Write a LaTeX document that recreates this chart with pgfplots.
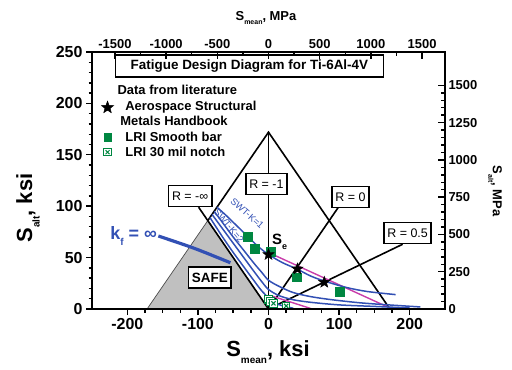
\documentclass[border=0pt]{standalone}
\usepackage{fontspec}
\setmainfont{Liberation Sans}
\usepackage{pgfplots}
\pgfplotsset{compat=1.18}
\definecolor{cblue}{RGB}{50,80,180}
\definecolor{cgreen}{RGB}{0,135,65}
\definecolor{cmag}{RGB}{200,60,170}
\definecolor{cgray}{RGB}{192,192,192}
\pgfdeclareplotmark{fstar}{%
  \pgfpathmoveto{\pgfpointpolar{90}{\pgfplotmarksize}}%
  \pgfpathlineto{\pgfpointpolar{126}{0.42*\pgfplotmarksize}}%
  \pgfpathlineto{\pgfpointpolar{162}{\pgfplotmarksize}}%
  \pgfpathlineto{\pgfpointpolar{198}{0.42*\pgfplotmarksize}}%
  \pgfpathlineto{\pgfpointpolar{234}{\pgfplotmarksize}}%
  \pgfpathlineto{\pgfpointpolar{270}{0.42*\pgfplotmarksize}}%
  \pgfpathlineto{\pgfpointpolar{306}{\pgfplotmarksize}}%
  \pgfpathlineto{\pgfpointpolar{342}{0.42*\pgfplotmarksize}}%
  \pgfpathlineto{\pgfpointpolar{18}{\pgfplotmarksize}}%
  \pgfpathlineto{\pgfpointpolar{54}{0.42*\pgfplotmarksize}}%
  \pgfpathclose
  \pgfusepathqfillstroke}
\pgfdeclareplotmark{sqx}{%
  \pgfpathrectangle{\pgfpoint{-\pgfplotmarksize}{-\pgfplotmarksize}}{\pgfpoint{2*\pgfplotmarksize}{2*\pgfplotmarksize}}%
  \pgfusepathqfillstroke
  \pgfpathmoveto{\pgfpoint{-0.55*\pgfplotmarksize}{-0.55*\pgfplotmarksize}}%
  \pgfpathlineto{\pgfpoint{0.55*\pgfplotmarksize}{0.55*\pgfplotmarksize}}%
  \pgfpathmoveto{\pgfpoint{-0.55*\pgfplotmarksize}{0.55*\pgfplotmarksize}}%
  \pgfpathlineto{\pgfpoint{0.55*\pgfplotmarksize}{-0.55*\pgfplotmarksize}}%
  \pgfusepathqstroke}
\newcommand{\fs}[1]{\fontsize{#1}{#1}\selectfont}
\begin{document}
\begin{tikzpicture}
\useasboundingbox (0,0) rectangle (512bp,370bp);
\begin{axis}[
  at={(92bp,61bp)}, anchor=south west, scale only axis,
  width=353bp, height=257bp,
  xmin=-250, xmax=250, ymin=0, ymax=250,
  xtick={-200,-100,0,100,200}, ytick={0,50,...,250},
  minor x tick num=3, minor y tick num=4,
  xtick pos=left, ytick pos=left, tick align=outside,
  major tick length=6bp, minor tick length=3.5bp,
  axis line style={line width=2bp},
  every tick/.style={black, line width=1.4bp},
  ticklabel style={font=\fs{16}\bfseries},
  /pgf/number format/assume math mode=true,
  /pgf/number format/1000 sep={},
  clip=false,
]
% safe region
\addplot[fill=cgray, draw=gray!60!black, line width=0.7bp] coordinates {(-172,0)(-86,86)(0,0)} \closedcycle;
% black lines
\addplot[black, line width=1.6bp] coordinates {(-86,86)(0,172)(172,0)};
\addplot[black, line width=1.6bp] coordinates {(0,0)(0,172)};
\addplot[black, line width=1.6bp] coordinates {(-99,99)(0,0)};
\addplot[black, line width=1.6bp] coordinates {(0,0)(100,100)};
\addplot[black, line width=1.6bp] coordinates {(0,0)(190,63)};
% magenta lines
\addplot[cmag, line width=1.4bp] coordinates {(3,54)(175,0)};
\addplot[cmag, line width=1.4bp] coordinates {(3,13)(62,0)};
% blue curves
\addplot[cblue, line width=1.5bp, smooth] coordinates {(-73,99)(-60,91)(-45,81)(-30,71)(-15,61)(0,53)(20,45)(40,39)(60,32)(80,27)(110,21)(140,17)(180,14)};
\addplot[cblue, line width=1.5bp, smooth] coordinates {(-77,95)(-65,84)(-50,70)(-35,57)(-20,44)(-10,36)(0,28)(15,22)(35,16)(60,12)(90,9)(130,6)(170,4)(215,2)};
\addplot[cblue, line width=1.5bp, smooth] coordinates {(-80,92)(-65,78)(-50,64)(-35,50)(-20,36)(-10,27)(0,19)(15,13)(35,9)(60,6.5)(100,4)(150,2.5)(200,1)};
\addplot[cblue, line width=1.5bp, smooth] coordinates {(-83,89)(-65,70)(-50,55)(-35,41)(-20,27)(-10,18)(0,11)(10,6)(20,3)(35,0.8)};
% k_f = infinity pointer
\addplot[cblue, line width=3.2bp, smooth] coordinates {(-156,71)(-105,59)(-54,45)};
% data
\addplot[only marks, mark=square*, mark size=4.4bp, cgreen] coordinates {(-30,70)(-20,59)(3,56)(40,31)(101,17)};
\addplot[only marks, mark=sqx, mark size=3.8bp, mark options={draw=cgreen, fill=white, line width=1.1bp}] coordinates {(0,9.5)(3,7.5)(7,5.5)(25,3)};
\addplot[only marks, mark=fstar, mark size=6bp, black] coordinates {(0,53)(41,39)(79,26)};
% legend markers
\addplot[only marks, mark=fstar, mark size=6.5bp, black] coordinates {(-228,196)};
\addplot[only marks, mark=square*, mark size=3.8bp, cgreen] coordinates {(-228,167)};
\addplot[only marks, mark=sqx, mark size=3.6bp, mark options={draw=cgreen, fill=white, line width=1bp}] coordinates {(-228,152.5)};
% text
\node[draw, line width=1.8bp, fill=white, font=\fs{13.5}\bfseries, minimum width=268bp, minimum height=22bp, inner sep=2bp] at (axis cs:-27,236) {Fatigue Design Diagram for Ti-6Al-4V};
\node[anchor=west, font=\fs{13}\bfseries, inner sep=0pt] at (axis cs:-214,213) {Data from literature};
\node[anchor=west, font=\fs{13}\bfseries, inner sep=0pt] at (axis cs:-203,196.5) {Aerospace Structural};
\node[anchor=west, font=\fs{13}\bfseries, inner sep=0pt] at (axis cs:-210,183) {Metals Handbook};
\node[anchor=west, font=\fs{13}\bfseries, inner sep=0pt] at (axis cs:-203,167) {LRI Smooth bar};
\node[anchor=west, font=\fs{13}\bfseries, inner sep=0pt] at (axis cs:-203,152.5) {LRI 30 mil notch};
\tikzset{rbox/.style={draw, line width=1.8bp, fill=white, font=\fs{12.5}, inner sep=3.5bp, minimum height=21bp}}
\node[rbox] at (axis cs:-111,110) {R = -∞};
\node[rbox] at (axis cs:-3,121.6) {R = -1};
\node[rbox] at (axis cs:116,109) {R = 0};
\node[rbox] at (axis cs:197,74) {R = 0.5};
\node[rbox, font=\fs{13.5}\bfseries] at (axis cs:-83,30.6) {SAFE};
\node[anchor=west, font=\fs{15}\bfseries, inner sep=0pt] at (axis cs:5,65) {S\raisebox{-0.35em}{\fs{9}e}};
\node[text=cblue, font=\fs{18}\bfseries, inner sep=0pt] at (axis cs:-191,71) {k\raisebox{-0.3em}{\fs{10}f} = ∞};
\node[text=cblue, font=\fs{9.5}, rotate=-42, inner sep=0pt] at (axis cs:-30,93) {SWT-K=1};
\node[text=cblue, font=\fs{9.5}, rotate=-50, inner sep=0pt] at (axis cs:-56,81) {SWT-K=2};
\end{axis}
\begin{axis}[
  at={(92bp,61bp)}, anchor=south west, scale only axis,
  width=353bp, height=257bp,
  xmin=-1723.7, xmax=1723.7, ymin=0, ymax=1723.7,
  xtick={-1500,-1000,...,1500}, ytick={0,250,...,1500},
  minor x tick num=1, minor y tick num=4,
  xtick pos=right, ytick pos=right, xticklabel pos=right, yticklabel pos=right,
  tick align=inside,
  major tick length=7bp, minor tick length=4bp,
  axis line style={line width=2bp},
  every tick/.style={black, line width=1.4bp},
  ticklabel style={font=\fs{13}\bfseries},
  /pgf/number format/assume math mode=true,
  /pgf/number format/1000 sep={},
]
\end{axis}
\node[font=\fs{22}\bfseries] at (268bp,18bp) {S\raisebox{-0.35em}{\fs{10}mean}, ksi};
\node[font=\fs{22}\bfseries, rotate=90] at (28bp,162bp) {S\raisebox{-0.35em}{\fs{10}alt}, ksi};
\node[font=\fs{13}\bfseries] at (266bp,352bp) {S\raisebox{-0.35em}{\fs{7}mean}, MPa};
\node[font=\fs{13}\bfseries, rotate=-90] at (495bp,179bp) {S\raisebox{-0.35em}{\fs{7}alt}, MPa};
\end{tikzpicture}
\end{document}
